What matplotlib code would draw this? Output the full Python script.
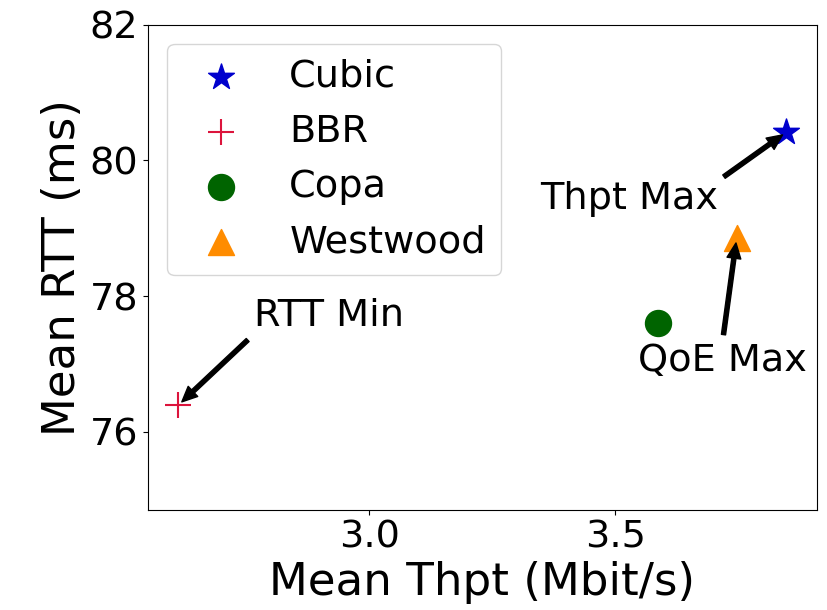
import matplotlib
matplotlib.use("Agg")
import matplotlib.pyplot as plt

# mean throughput (Mbit/s) and mean RTT (ms) per congestion control scheme
schemes = ["Cubic", "BBR", "Copa", "Westwood"]
thpt = [3.846, 2.612, 3.587, 3.746]
rtt = [80.41, 76.39, 77.61, 78.86]
markers = ["*", "+", "o", "^"]
colors = ["mediumblue", "crimson", "darkgreen", "darkorange"]
sizes = [380, 330, 350, 350]

fig = plt.figure(figsize=(8.28, 6.10), dpi=100)
ax = fig.add_axes([0.1787, 0.1639, 0.808, 0.7959])

for name, x, y, m, c, s in zip(schemes, thpt, rtt, markers, colors, sizes):
    ax.scatter(x, y, marker=m, color=c, s=s, label=name)

arrow = dict(facecolor="black", edgecolor="black", shrink=0.05,
             width=3, headwidth=10, headlength=11)

ax.annotate("Thpt Max", xy=(thpt[0], rtt[0]), xytext=(3.527, 79.43),
            ha="center", va="center", fontsize=27.5, arrowprops=arrow)
ax.annotate("QoE Max", xy=(thpt[3], rtt[3]), xytext=(3.717, 77.05),
            ha="center", va="center", fontsize=27.5, arrowprops=arrow)
ax.annotate("RTT Min", xy=(thpt[1], rtt[1]), xytext=(2.919, 77.71),
            ha="center", va="center", fontsize=27.5, arrowprops=arrow)

ax.set_xlim(2.551, 3.909)
ax.set_ylim(74.85, 82)
ax.set_xticks([3.0, 3.5])
ax.set_yticks([76, 78, 80, 82])
ax.tick_params(labelsize=27.5)
ax.set_xlabel("Mean Thpt (Mbit/s)", fontsize=32.5)
ax.set_ylabel("Mean RTT (ms)", fontsize=32.5)
ax.legend(loc="upper left", fontsize=27.5)

fig.savefig("out.png", dpi=100)
